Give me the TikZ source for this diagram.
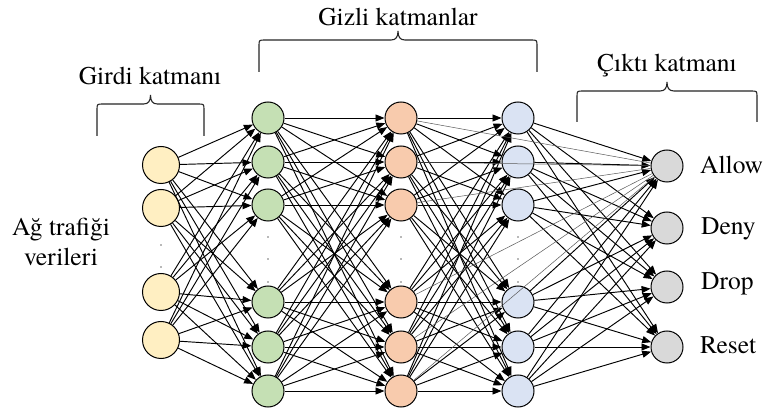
\documentclass[tikz,border=0pt]{standalone}
\usepackage{fontspec}
\setmainfont{TeX Gyre Termes}
\newfontfamily\tnr{TeX Gyre Termes}
\usetikzlibrary{arrows.meta}
\definecolor{cin}{HTML}{FFEFC2}
\definecolor{cgreen}{HTML}{C5E0B4}
\definecolor{corange}{HTML}{F8CBAD}
\definecolor{cblue}{HTML}{DAE3F3}
\definecolor{cgray}{HTML}{D9D9D9}
\newcommand{\mybrk}[4]{%
  \pgfmathsetmacro{\xm}{(#1+#2)/2}%
  \draw[bracestyle] (#1,#3) -- (#1,#4+6) .. controls (#1,#4) .. (#1+6,#4)
    -- (\xm-7,#4) .. controls (\xm-2,#4) and (\xm,#4-3) .. (\xm,#4-9)
    .. controls (\xm,#4-3) and (\xm+2,#4) .. (\xm+7,#4)
    -- (#2-6,#4) .. controls (#2,#4) .. (#2,#4+6) -- (#2,#3);}
\begin{document}
\begin{tikzpicture}[x=1pt,y=-1pt,
  neuron/.style={circle,draw=black,line width=1pt,minimum size=32pt,inner sep=0pt},
  inneuron/.style={neuron,minimum size=37pt,fill=cin},
  conn/.style={line width=0.95pt,-{Triangle[length=9pt,width=7pt]}},
  thinline/.style={line width=0.5pt,black!65},
  lbl/.style={font=\tnr\fontsize{25.5}{30}\selectfont},
  outlbl/.style={lbl,anchor=base west,inner sep=0pt},
  dotm/.style={circle,fill=black!55,inner sep=0pt,minimum size=1.6pt},
  bracestyle/.style={line width=1.1pt,black!85}]
\useasboundingbox (0,0) rectangle (764,414);
\fill[white] (0,0) rectangle (764,414);
% nodes
\foreach \y [count=\i] in {165,208,292,340} \node[inneuron] (i\i) at (161,\y) {};
\foreach \y [count=\i] in {118,162,205,302,347,391} {
  \node[neuron,fill=cgreen] (g\i) at (268,\y) {};
  \node[neuron,fill=corange] (o\i) at (401,\y) {};
  \node[neuron,fill=cblue] (b\i) at (518,\y) {};
}
\foreach \y [count=\i] in {166,228,287,347} \node[neuron,fill=cgray] (y\i) at (667,\y) {};
% connections
\foreach \a in {1,...,4} \foreach \b in {1,...,6} \draw[conn] (i\a) -- (g\b);
\foreach \a in {1,...,6} \foreach \b in {1,...,6} {
  \draw[conn] (g\a) -- (o\b);
  \draw[conn] (o\a) -- (b\b);
}
\foreach \a in {1,...,6} \foreach \b in {1,...,4} \draw[conn] (b\a) -- (y\b);
\foreach \a in {1,...,6} \draw[thinline] (o\a) -- (y1);
% dots
\foreach \y in {245,267} \node[dotm] (di\y) at (161,\y) {};
\foreach \x in {268,401,518} \foreach \y in {237,259,282} \node[dotm] (d\x-\y) at (\x,\y) {};
% output labels
\node[outlbl] (t1) at (700,174) {Allow};
\node[outlbl] (t2) at (701,235) {Deny};
\node[outlbl] (t3) at (701,290) {Drop};
\node[outlbl] (t4) at (700,354) {Reset};
% braces and titles
\mybrk{97}{204}{136}{104}
\mybrk{259}{537}{72}{40}
\mybrk{577}{757}{122}{91}
\node[lbl] (tg) at (150,76) {Girdi katmanı};
\node[lbl] (th) at (398,17) {Gizli katmanlar};
\node[lbl] (tc) at (667,66) {Çıktı katmanı};
\node[lbl,align=center] (ta) at (61,242) {Ağ trafiği\\verileri};
\end{tikzpicture}
\end{document}
